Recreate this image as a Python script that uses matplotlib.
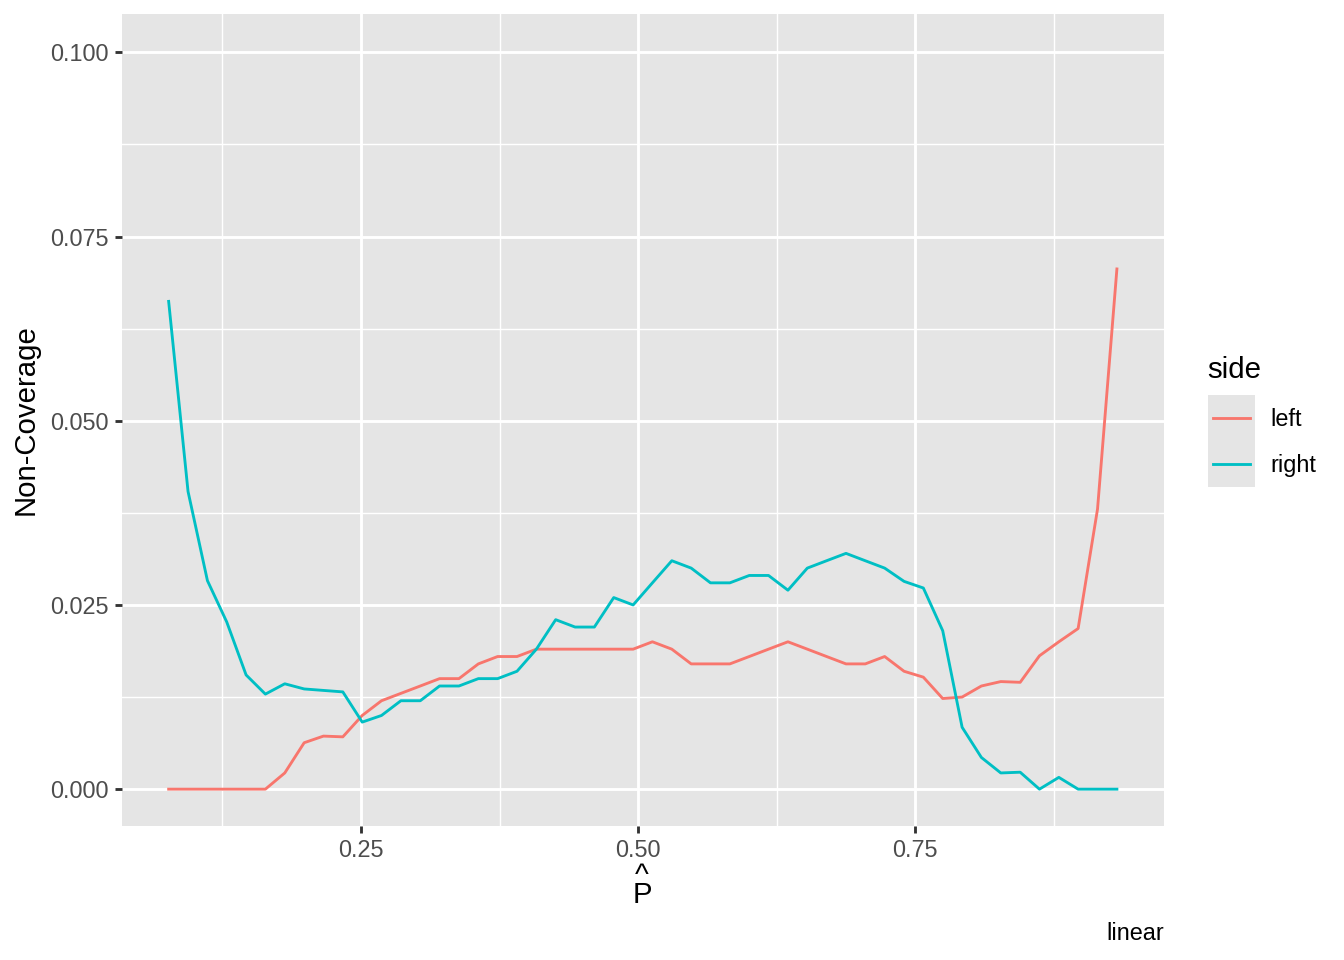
import matplotlib
matplotlib.use("Agg")
import matplotlib.pyplot as plt
from matplotlib.ticker import FixedLocator, FormatStrFormatter

# Data
p_hat = [0.0764, 0.0939, 0.1114, 0.1288, 0.1463, 0.1637, 0.1812, 0.1987, 0.2161, 0.2336,
         0.2511, 0.2685, 0.2860, 0.3035, 0.3209, 0.3384, 0.3559, 0.3733, 0.3908, 0.4083,
         0.4257, 0.4432, 0.4606, 0.4781, 0.4956, 0.5130, 0.5305, 0.5480, 0.5654, 0.5829,
         0.6004, 0.6178, 0.6353, 0.6528, 0.6702, 0.6877, 0.7051, 0.7226, 0.7401, 0.7575,
         0.7750, 0.7925, 0.8099, 0.8274, 0.8449, 0.8623, 0.8798, 0.8972, 0.9147, 0.9322]

left = [0.0, 0.0, 0.0, 0.0, 0.0, 0.0, 0.0022, 0.0063, 0.0072, 0.0071,
        0.0100, 0.0120, 0.0130, 0.0140, 0.0150, 0.0150, 0.0170, 0.0180, 0.0180, 0.0190,
        0.0190, 0.0190, 0.0190, 0.0190, 0.0190, 0.0200, 0.0190, 0.0170, 0.0170, 0.0170,
        0.0180, 0.0190, 0.0200, 0.0190, 0.0180, 0.0170, 0.0170, 0.0180, 0.0160, 0.0152,
        0.0123, 0.0125, 0.0140, 0.0146, 0.0145, 0.0181, 0.0200, 0.0218, 0.0380, 0.0706]

right = [0.0662, 0.0404, 0.0283, 0.0227, 0.0155, 0.0129, 0.0143, 0.0136, 0.0134, 0.0132,
         0.0091, 0.0100, 0.0120, 0.0120, 0.0140, 0.0140, 0.0150, 0.0150, 0.0160, 0.0190,
         0.0230, 0.0220, 0.0220, 0.0260, 0.0250, 0.0280, 0.0310, 0.0300, 0.0280, 0.0280,
         0.0290, 0.0290, 0.0270, 0.0300, 0.0310, 0.0320, 0.0310, 0.0300, 0.0282, 0.0273,
         0.0215, 0.0084, 0.0043, 0.0022, 0.0023, 0.0000, 0.0016, 0.0000, 0.0000, 0.0000]

sides = ["left", "right"]
colors = ["#F8766D", "#00BFC4"]

x_ticks = [0.25, 0.50, 0.75]
x_minor = [0.125, 0.375, 0.625, 0.875]
y_ticks = [0.0, 0.025, 0.05, 0.075, 0.1]
y_minor = [0.0125, 0.0375, 0.0625, 0.0875]

plt.rcParams["font.family"] = ["Liberation Sans", "DejaVu Sans"]

W, H = 1344, 960
fig = plt.figure(figsize=(7, 5), dpi=192)
panel_bg = "#E5E5E5"

# panel
ax = fig.add_axes([122 / W, 1 - 826 / H, (1164 - 122) / W, (826 - 14) / H])
ax.set_facecolor(panel_bg)
for s in ax.spines.values():
    s.set_visible(False)

ax.set_xlim(0.0343, 0.9747)
ax.set_ylim(-0.0050, 0.1052)

ax.xaxis.set_major_locator(FixedLocator(x_ticks))
ax.xaxis.set_minor_locator(FixedLocator(x_minor))
ax.yaxis.set_major_locator(FixedLocator(y_ticks))
ax.yaxis.set_minor_locator(FixedLocator(y_minor))
ax.xaxis.set_major_formatter(FormatStrFormatter("%.2f"))
ax.yaxis.set_major_formatter(FormatStrFormatter("%.3f"))

ax.grid(which="major", color="white", linewidth=1.07)
ax.grid(which="minor", color="white", linewidth=0.53)
ax.set_axisbelow(True)
ax.tick_params(which="major", length=2.75, width=1.07, color="#333333",
               labelsize=8.8, labelcolor="#4D4D4D", pad=2.2)
ax.tick_params(which="minor", length=0)

for side, y, c in zip(sides, [left, right], colors):
    ax.plot(p_hat, y, color=c, linewidth=1.07, label=side)

ax.set_ylabel("Non-Coverage", fontsize=11, labelpad=4)

# x title: P with a hat (plotmath style), one text object
fig.text(642 / W, 1 - 903 / H, "^\nP", ha="center", va="baseline",
         multialignment="center", linespacing=0.58, fontsize=11)

# caption
fig.text(1164 / W, 1 - 934 / H, "linear", ha="right", va="center", fontsize=8.8)

# legend
fig.text(1207 / W, 1 - 370 / H, "side", ha="left", va="center", fontsize=11)
lax = fig.add_axes([1208 / W, 1 - 487 / H, 47 / W, 92 / H])
lax.set_facecolor(panel_bg)
for s in lax.spines.values():
    s.set_visible(False)
lax.set_xticks([])
lax.set_yticks([])
lax.set_xlim(0, 1)
lax.set_ylim(0, 2)
for i, (side, c) in enumerate(zip(sides, colors)):
    yk = 1.5 - i
    lax.plot([0.1, 0.9], [yk, yk], color=c, linewidth=1.07)
    fig.text(1270 / W, 1 - (419 + 47 * i) / H, side, ha="left", va="center", fontsize=8.8)

fig.savefig("out.png", dpi=192)
